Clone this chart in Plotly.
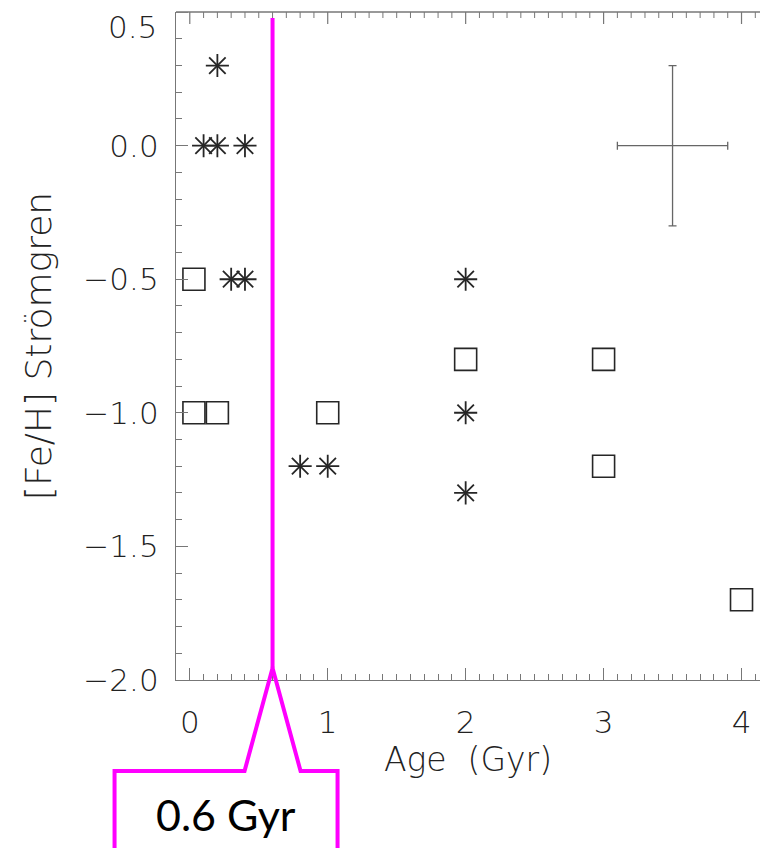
import numpy as np
import plotly.graph_objects as go

# Asterisk sample: age (Gyr) and Stromgren metallicity
star_age = [0.2, 0.1, 0.2, 0.4, 0.3, 0.4, 0.8, 1.0, 2.0, 2.0, 2.0]
star_feh = [0.3, 0.0, 0.0, 0.0, -0.5, -0.5, -1.2, -1.2, -0.5, -1.0, -1.3]

# Square sample
square_age = [0.03, 0.03, 0.2, 1.0, 2.0, 3.0, 3.0, 4.0]
square_feh = [-0.5, -1.0, -1.0, -1.0, -0.8, -0.8, -1.2, -1.7]

# Typical uncertainty cross
err_age, err_feh = [3.5], [0.0]
err_age_size, err_feh_size = [0.4], [0.3]

# Axis ticks
x_tick_vals = [0, 1, 2, 3, 4]
y_tick_vals = [0.5, 0.0, -0.5, -1.0, -1.5, -2.0]
y_tick_text = ["0.5", "0.0", "\u22120.5", "\u22121.0", "\u22121.5", "\u22122.0"]

# Age marker
GYR_MARK = 0.6
GYR_LABEL = "0.6 Gyr"

X_RANGE = [-0.1, 4.134]
Y_RANGE = [-2.0005, 0.5005]

W, H = 760, 848
M_L, M_R, M_T, M_B = 176, 0, 12, 168

MAGENTA = "#FF00FF"
INK = "#222222"
AXIS = "#777777"
TICK_FONT = dict(family="DejaVu Sans", size=31, color=INK, weight=200)
TITLE_FONT = dict(family="DejaVu Sans", size=33, color=INK, weight=200)

fig = go.Figure()

mk_line = dict(color="#262626", width=1.8)
# asterisk built from a plus and a cross of equal arm length
for sym in ("cross-thin-open", "x-thin-open"):
    fig.add_trace(go.Scatter(
        x=star_age, y=star_feh, mode="markers",
        marker=dict(symbol=sym, size=16.5, color="#262626", line=mk_line),
        showlegend=False, hoverinfo="skip"))

fig.add_trace(go.Scatter(
    x=square_age, y=square_feh, mode="markers",
    marker=dict(symbol="square-open", size=22, color="#262626", line=dict(color="#333333", width=1.6)),
    showlegend=False, hoverinfo="skip"))

fig.add_trace(go.Scatter(
    x=err_age, y=err_feh, mode="markers",
    marker=dict(size=0.1, color="rgba(0,0,0,0)"),
    error_x=dict(type="data", array=err_age_size, color="#666666", thickness=1.3, width=4),
    error_y=dict(type="data", array=err_feh_size, color="#666666", thickness=1.3, width=4),
    showlegend=False, hoverinfo="skip"))

# top frame line and its downward tick marks
fig.add_shape(type="line", xref="paper", yref="paper", x0=0, x1=1, y0=1, y1=1,
              line=dict(color=AXIS, width=1.3))
for t in np.round(np.arange(0, X_RANGE[1], 0.1), 1):
    major = float(t).is_integer()
    fig.add_shape(type="line", xref="x", yref="paper", ysizemode="pixel", yanchor=1,
                  x0=t, x1=t, y0=0, y1=-(12 if major else 6),
                  line=dict(color=AXIS, width=1.2 if major else 1))
# major tick at the top of the left frame
fig.add_shape(type="line", xref="paper", yref="y", xsizemode="pixel", xanchor=0,
              x0=0, x1=12, y0=y_tick_vals[0], y1=y_tick_vals[0],
              line=dict(color=AXIS, width=1.2))

# magenta age line
fig.add_shape(type="line", xref="x", yref="y", x0=GYR_MARK, x1=GYR_MARK,
              y0=-1.955, y1=0.478,
              line=dict(color=MAGENTA, width=4))

# callout box with pointer (pixel offsets from the pointer tip)
plot_h = H - M_T - M_B
xp = (GYR_MARK - X_RANGE[0]) / (X_RANGE[1] - X_RANGE[0])
tip_y = 12 / plot_h
path = ("M -158,-220 L -158,-103 L -28,-103 L 0,0 "
        "L 28,-103 L 65,-103 L 65,-220")
fig.add_shape(type="path", xref="paper", yref="paper",
              xsizemode="pixel", ysizemode="pixel",
              xanchor=xp, yanchor=tip_y, path=path,
              line=dict(color=MAGENTA, width=4), fillcolor="rgba(0,0,0,0)")

fig.add_annotation(text=GYR_LABEL, xref="paper", yref="paper",
                   x=xp, y=-(814 - 680) / plot_h, xshift=-47,
                   xanchor="center", yanchor="middle", showarrow=False,
                   font=dict(family="Lato", size=43, color="#000000"))

# the topmost y label sits just inside the frame
fig.add_annotation(text=y_tick_text[0], xref="paper", yref="y",
                   x=0, y=y_tick_vals[0], xshift=-17, yshift=-15,
                   xanchor="right", yanchor="middle", showarrow=False,
                   font=TICK_FONT)

tick_style = dict(
    showgrid=False, zeroline=False,
    showline=True, linecolor=AXIS, linewidth=1.3,
    ticks="inside", ticklen=12, tickwidth=1.2, tickcolor=AXIS,
)

fig.update_layout(
    xaxis=dict(
        range=X_RANGE, tickmode="array", tickvals=x_tick_vals, **tick_style,
        minor=dict(ticks="inside", ticklen=6, tickwidth=1, tickcolor=AXIS, dtick=0.1, tick0=0, showgrid=False),
        tickfont=TICK_FONT, ticklabelstandoff=15,
        title=dict(text="Age  (Gyr)", font=TITLE_FONT, standoff=4),
    ),
    yaxis=dict(
        range=Y_RANGE, tickmode="array", tickvals=y_tick_vals[1:], ticktext=y_tick_text[1:],
        **tick_style,
        minor=dict(ticks="inside", ticklen=6, tickwidth=1, tickcolor=AXIS, dtick=0.1, tick0=0, showgrid=False),
        tickfont=TICK_FONT, ticklabelstandoff=10,
        title=dict(text="[Fe/H] Strömgren", font=dict(family="DejaVu Sans", size=36, color=INK, weight=200), standoff=20),
    ),
    width=W, height=H,
    margin=dict(l=M_L, r=M_R, t=M_T, b=M_B, autoexpand=False),
    paper_bgcolor="white", plot_bgcolor="white",
    showlegend=False,
)

fig.write_html("out.html")
